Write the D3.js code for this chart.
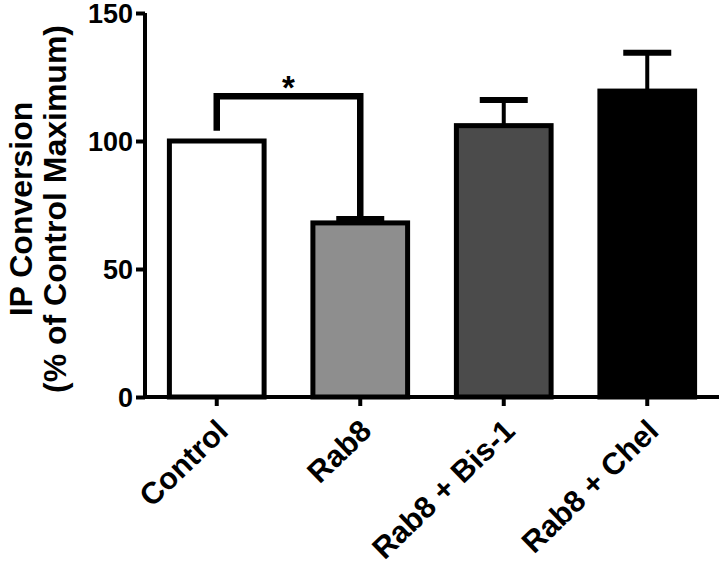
<!DOCTYPE html>
<html><head><meta charset="utf-8">
<script src="https://cdn.jsdelivr.net/npm/d3@7"></script>
<style>body{margin:0;background:#fff}svg{display:block}text{font-family:"Liberation Sans",Arial,sans-serif;font-weight:bold}</style>
</head><body><svg id="c" width="720" height="572"></svg>
<script>
const categories = ["Control", "Rab8", "Rab8 + Bis-1", "Rab8 + Chel"];
const values = [100, 68, 106, 119.5];
const errors = [0, 1.5, 10, 15];
const colors = ["#ffffff", "#8e8e8e", "#4b4b4b", "#000000"];
const yTicks = [0, 50, 100, 150];
const yLabel = ["IP Conversion", "(% of Control Maximum)"];

const svg = d3.select("#c");
const x = d3.scaleBand().domain(categories).range([145, 719]).paddingInner(0.34).paddingOuter(0.17);
const y = d3.scaleLinear().domain([0, 150]).range([397, 13]);

// bars
svg.selectAll("rect.bar").data(categories).join("rect")
  .attr("x", d => x(d)).attr("width", x.bandwidth())
  .attr("y", (d, i) => y(values[i])).attr("height", (d, i) => y(0) - y(values[i]))
  .attr("fill", (d, i) => colors[i]).attr("stroke", "#000").attr("stroke-width", 5);

// error bars
categories.forEach((c, i) => {
  if (!errors[i]) return;
  const cx = x(c) + x.bandwidth() / 2;
  const top = y(values[i] + errors[i]);
  svg.append("line").attr("x1", cx).attr("x2", cx).attr("y1", y(values[i])).attr("y2", top)
    .attr("stroke", "#000").attr("stroke-width", 4);
  svg.append("line").attr("x1", cx - 24).attr("x2", cx + 24).attr("y1", top).attr("y2", top)
    .attr("stroke", "#000").attr("stroke-width", 6);
});

// axes
const yAxis = svg.append("g").attr("transform", "translate(145,0)")
  .call(d3.axisLeft(y).tickValues(yTicks).tickSize(9).tickPadding(3));
const xAxis = svg.append("g").attr("transform", "translate(0,397)")
  .call(d3.axisBottom(x).tickSize(9).tickFormat(""));
[yAxis, xAxis].forEach(g => {
  g.select(".domain").attr("stroke", "#000").attr("stroke-width", 4);
  g.selectAll(".tick line").attr("stroke", "#000").attr("stroke-width", 4);
});
xAxis.select(".domain").attr("d", "M145,0H719");
yAxis.select(".domain").attr("d", "M0,399V13");
yAxis.selectAll(".tick text").attr("font-size", 27).attr("fill", "#000")
  .attr("font-family", "Liberation Sans, Arial").attr("font-weight", "bold").attr("dy", "0.36em");

// x labels rotated
categories.forEach((c, i) => {
  const cx = x(c) + x.bandwidth() / 2;
  svg.append("text").attr("transform", `translate(${cx + 13},${433}) rotate(-44)`)
    .attr("text-anchor", "end").attr("font-size", 30.5).attr("fill", "#000").text(c);
});

// y label
yLabel.forEach((t, i) => {
  svg.append("text").attr("transform", `translate(${32 + i * 34},209) rotate(-90)`)
    .attr("text-anchor", "middle").attr("font-size", 32).attr("fill", "#000").text(t);
});

// significance bracket
const x1 = x(categories[0]) + x.bandwidth() / 2, x2 = x(categories[1]) + x.bandwidth() / 2;
const by = y(117.5);
svg.append("path").attr("d", `M${x1},${y(104)}V${by}H${x2}V${y(values[1] + errors[1])}`)
  .attr("fill", "none").attr("stroke", "#000").attr("stroke-width", 6.5);
svg.append("text").attr("x", (x1 + x2) / 2).attr("y", by + 3).attr("text-anchor", "middle")
  .attr("font-size", 33).attr("font-weight", "normal").attr("fill", "#000").text("*");
</script></body></html>
